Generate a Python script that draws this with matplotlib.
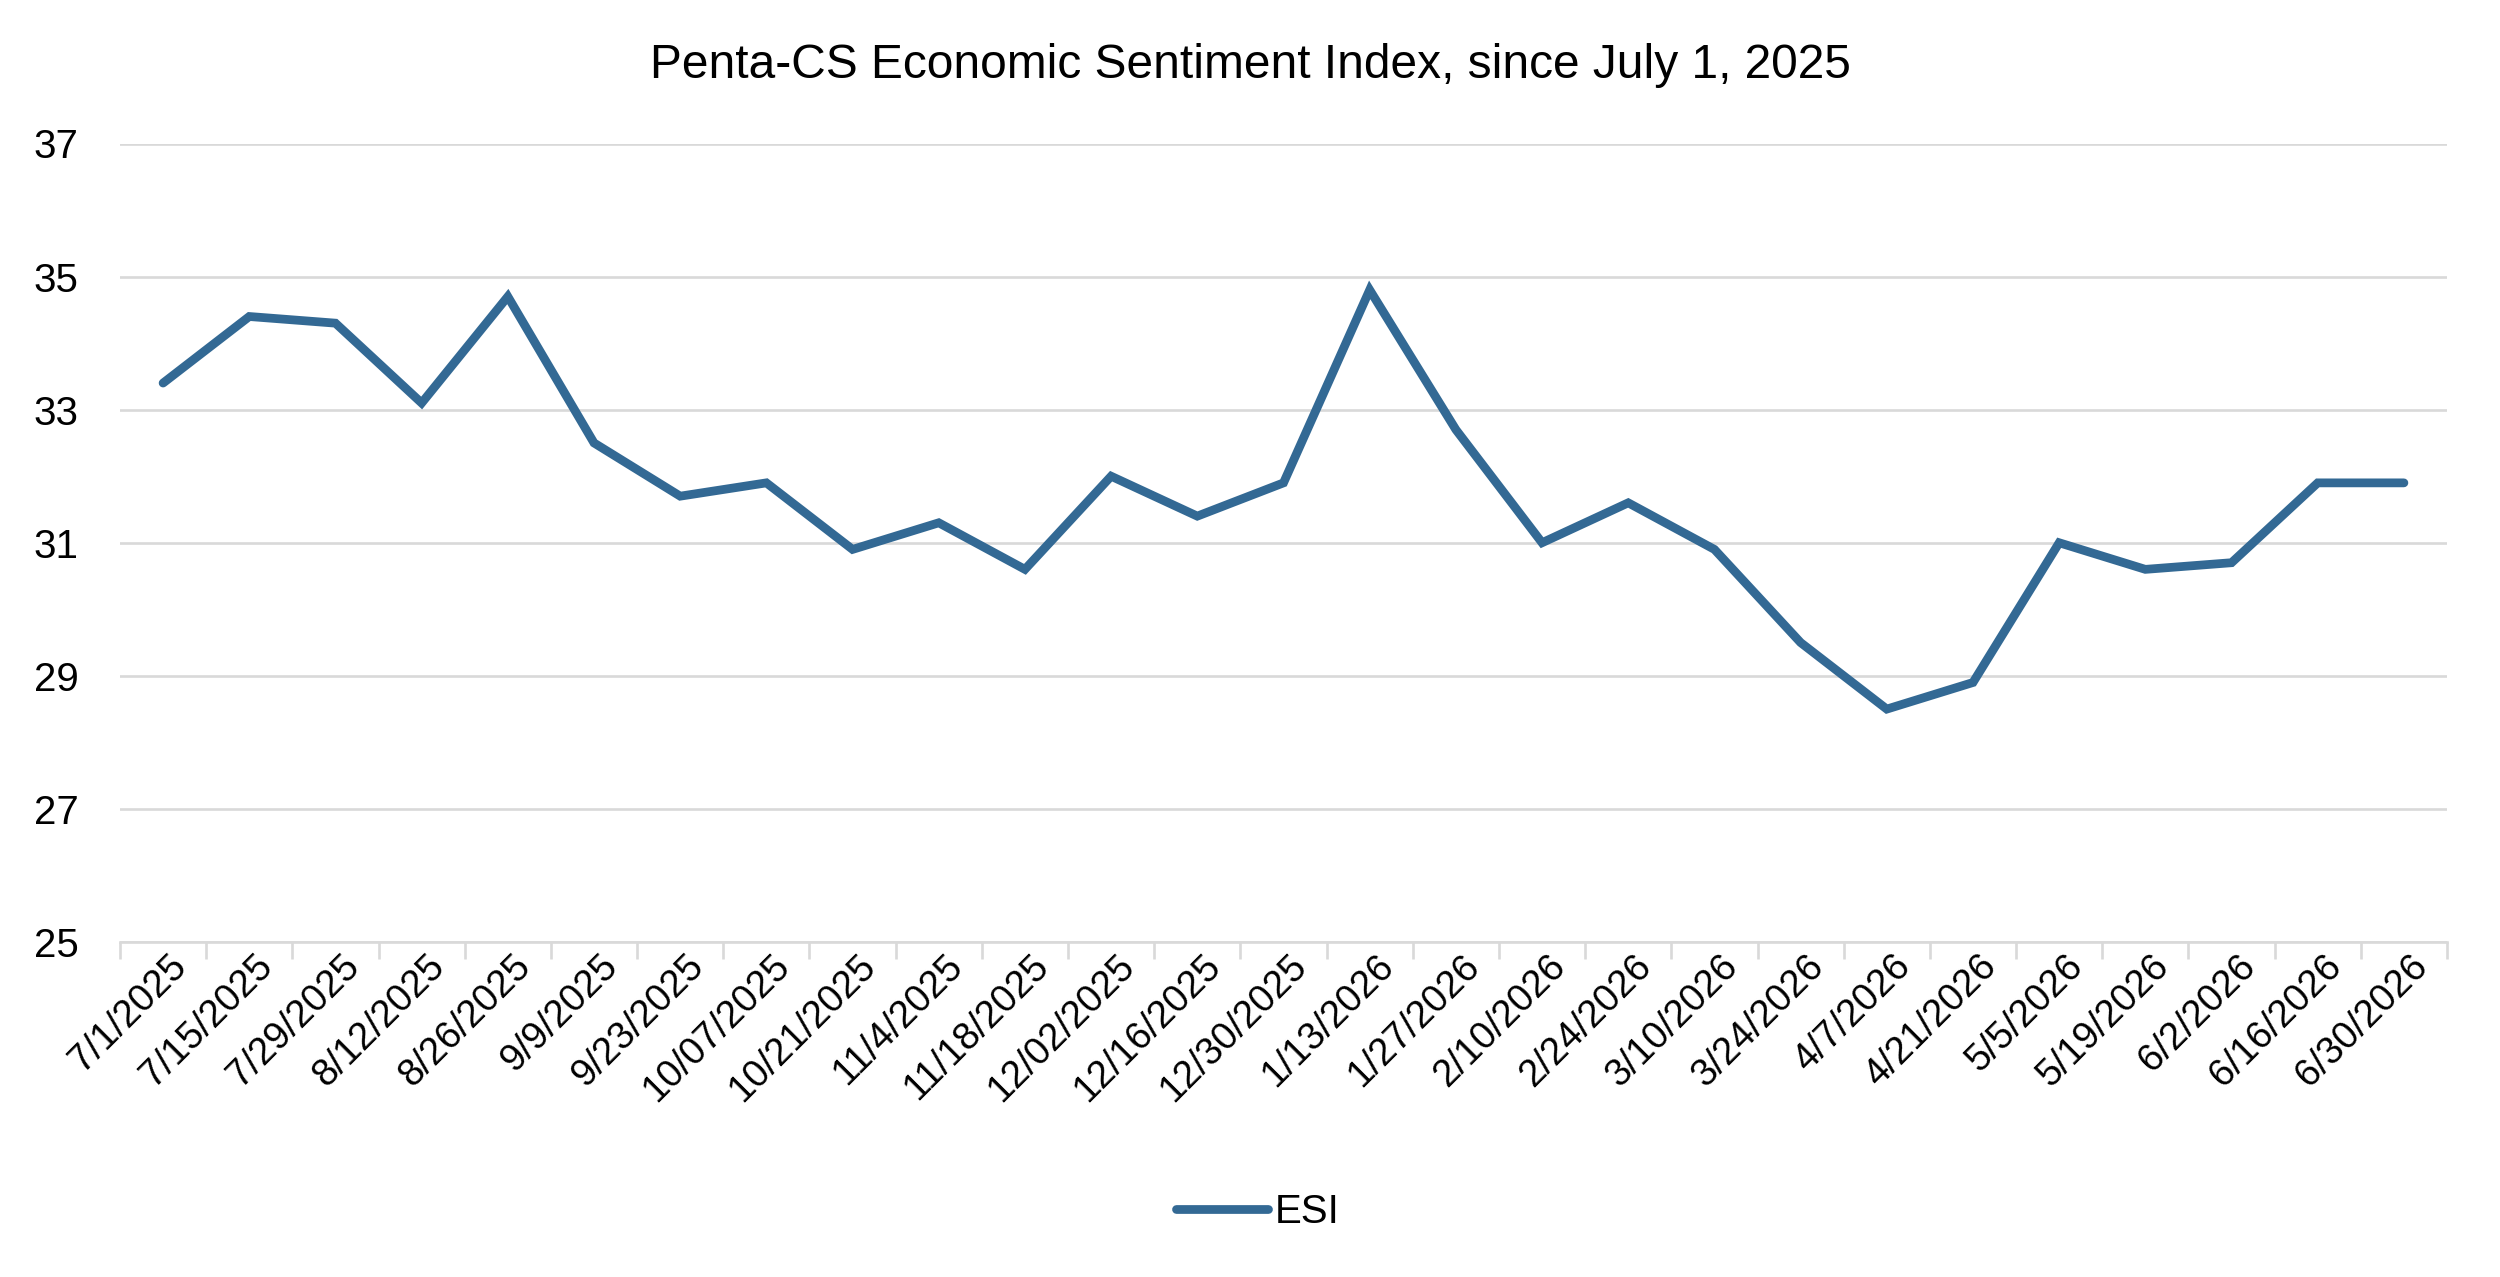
import matplotlib
matplotlib.use('Agg')
import matplotlib.pyplot as plt
import matplotlib.transforms as mtransforms

dates = ['7/1/2025', '7/15/2025', '7/29/2025', '8/12/2025', '8/26/2025', '9/9/2025',
         '9/23/2025', '10/07/2025', '10/21/2025', '11/4/2025', '11/18/2025', '12/02/2025',
         '12/16/2025', '12/30/2025', '1/13/2026', '1/27/2026', '2/10/2026', '2/24/2026',
         '3/10/2026', '3/24/2026', '4/7/2026', '4/21/2026', '5/5/2026', '5/19/2026',
         '6/2/2026', '6/16/2026', '6/30/2026']
esi = [33.4, 34.4, 34.3, 33.1, 34.7, 32.5, 31.7, 31.9, 30.9, 31.3, 30.6, 32.0, 31.4, 31.9,
       34.8, 32.7, 31.0, 31.6, 30.9, 29.5, 28.5, 28.9, 31.0, 30.6, 30.7, 31.9, 31.9]
y_ticks = [25, 27, 29, 31, 33, 35, 37]

plt.rcParams['font.family'] = ['Liberation Sans', 'DejaVu Sans']

fig = plt.figure(figsize=(25, 12.77), dpi=100)
ax = fig.add_axes([120 / 2500, 1 - 942 / 1277, (2447 - 120) / 2500, (942 - 143.5) / 1277])

x = list(range(len(dates)))
ax.plot(x, esi, color='#336994', lw=6.3, solid_joinstyle='miter', solid_capstyle='round', label='ESI')

ax.set_xlim(-0.5, len(dates) - 0.5)
ax.set_ylim(25, 37)
ax.set_yticks(y_ticks)
ax.set_yticklabels([str(v) for v in y_ticks], fontsize=29)
ax.yaxis.grid(True, color='#D9D9D9', lw=1.9)
ax.set_axisbelow(True)
ax.tick_params(axis='y', length=0, pad=30)

# ticks between categories, labels at category centres
ax.set_xticks([i - 0.5 for i in range(len(dates) + 1)], minor=False)
ax.set_xticklabels([])
ax.tick_params(axis='x', which='major', length=12, width=1.9, color='#D9D9D9')
ax.set_xticks(x, minor=True)
ax.set_xticklabels(dates, minor=True, rotation=45, ha='right', va='center',
                   rotation_mode='anchor', fontsize=27.5)
ax.tick_params(axis='x', which='minor', length=0, pad=0)
offset = mtransforms.ScaledTranslation(18 / 100, -19 / 100, fig.dpi_scale_trans)
for lab in ax.xaxis.get_minorticklabels():
    lab.set_transform(lab.get_transform() + offset)

for s in ['top', 'right', 'left']:
    ax.spines[s].set_visible(False)
ax.spines['bottom'].set_color('#D9D9D9')
ax.spines['bottom'].set_linewidth(1.9)

fig.text(0.5, 1 - 66 / 1277, 'Penta-CS Economic Sentiment Index, since July 1, 2025',
         ha='center', va='center', fontsize=34.5)
fig.legend(loc='center', bbox_to_anchor=(0.503, 1 - 1212 / 1277), frameon=False,
           fontsize=29, handlelength=2.3, handletextpad=0.15)

fig.savefig('out.png', dpi=100)
